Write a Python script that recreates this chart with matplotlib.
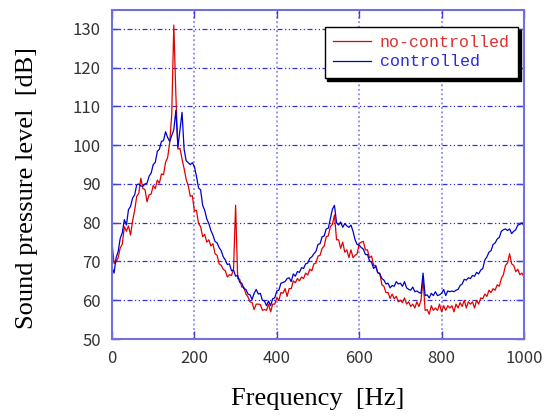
import numpy as np
import matplotlib
matplotlib.use('Agg')
import matplotlib.pyplot as plt

# frequency axis, 5 Hz steps
freq = np.arange(0, 1001, 5)

# no-controlled (red)
spl_nc = [
    75.0, 69.5, 70.0, 71.0, 73.5, 74.5, 79.0, 77.8, 79.2, 76.8,
    80.5, 83.2, 86.8, 87.6, 91.5, 88.8, 88.6, 85.4, 87.2, 87.4,
    89.6, 88.8, 91.0, 90.2, 92.6, 92.4, 95.6, 96.8, 100.6, 108.0,
    131.0, 113.0, 99.0, 99.2, 96.4, 94.0, 91.2, 89.6, 86.8, 87.0,
    83.0, 83.2, 79.8, 79.0, 76.4, 77.0, 75.0, 75.6, 74.0, 74.6,
    72.0, 71.6, 69.4, 69.0, 68.0, 67.6, 66.0, 66.6, 66.4, 68.0,
    84.5, 65.6, 65.4, 63.4, 63.4, 61.6, 60.9, 59.6, 59.4, 57.6,
    59.0, 59.0, 58.9, 57.4, 57.6, 57.4, 59.0, 57.0, 59.0, 59.0,
    60.6, 60.0, 62.0, 61.8, 63.0, 61.0, 63.0, 63.0, 65.0, 64.5,
    65.6, 65.0, 66.0, 65.6, 67.0, 66.5, 68.0, 67.6, 69.4, 69.6,
    71.4, 71.6, 73.4, 74.0, 76.4, 76.6, 79.0, 79.6, 82.0, 75.6,
    75.6, 73.4, 75.0, 72.4, 73.0, 71.0, 73.0, 71.0, 71.6, 72.0,
    74.6, 75.0, 75.2, 73.0, 73.0, 71.0, 71.4, 69.0, 69.0, 67.0,
    67.0, 64.0, 63.6, 62.0, 62.0, 60.5, 61.6, 60.4, 61.0, 59.6,
    60.0, 59.4, 60.6, 59.0, 59.6, 58.4, 59.0, 58.0, 59.6, 58.4,
    60.0, 65.5, 57.4, 57.6, 56.4, 58.6, 57.4, 58.0, 57.4, 59.0,
    57.0, 58.6, 57.4, 58.6, 58.0, 58.6, 57.0, 59.0, 58.0, 59.4,
    58.4, 60.0, 58.0, 59.6, 59.0, 59.6, 58.0, 60.0, 59.0, 60.6,
    60.4, 61.6, 61.0, 62.6, 62.0, 63.0, 62.6, 64.0, 63.6, 65.6,
    66.6, 69.0, 69.6, 72.0, 69.4, 69.0, 67.4, 68.0, 66.6, 67.0,
    66.0,
]

# controlled (blue)
spl_c = [
    68.5, 67.0, 71.0, 72.6, 76.0, 77.4, 80.8, 79.4, 83.4, 84.2,
    86.4, 87.2, 89.8, 90.0, 89.5, 89.4, 90.0, 90.2, 92.0, 92.8,
    95.0, 95.6, 98.4, 99.0, 101.0, 101.2, 103.5, 102.0, 101.0, 102.5,
    104.0, 109.0, 99.5, 104.0, 108.5, 99.0, 96.0, 95.5, 95.0, 95.5,
    94.5, 92.0, 89.0, 88.5, 84.5, 83.2, 81.0, 79.8, 78.0, 76.8,
    75.2, 74.8, 73.6, 72.8, 71.2, 70.4, 69.2, 69.4, 67.6, 67.8,
    66.2, 66.4, 64.6, 64.4, 63.0, 62.8, 61.6, 61.4, 60.2, 61.8,
    62.8, 61.6, 61.8, 60.0, 59.8, 58.6, 59.8, 58.6, 60.4, 60.6,
    62.4, 62.6, 64.4, 64.6, 64.8, 65.6, 65.8, 64.8, 66.8, 66.2,
    67.4, 67.2, 68.4, 68.2, 69.4, 69.6, 70.8, 71.2, 72.0, 72.6,
    74.4, 74.6, 76.4, 76.6, 78.4, 78.6, 81.0, 83.5, 84.5, 80.0,
    79.4, 80.2, 78.8, 79.8, 79.2, 78.8, 79.4, 77.8, 75.6, 74.4,
    74.2, 73.6, 73.2, 71.8, 71.8, 70.2, 69.8, 68.2, 68.8, 67.2,
    66.8, 65.6, 65.2, 64.2, 64.4, 63.2, 63.8, 63.6, 64.8, 64.2,
    64.4, 63.6, 64.8, 63.2, 62.8, 62.6, 63.4, 62.2, 62.4, 62.0,
    61.8, 67.0, 61.2, 61.4, 60.6, 61.8, 61.2, 62.2, 61.2, 61.4,
    61.8, 62.8, 61.2, 62.4, 62.2, 62.4, 62.2, 62.6, 62.8, 63.8,
    64.2, 65.4, 65.2, 65.8, 65.6, 66.4, 66.2, 67.2, 66.8, 67.8,
    68.2, 70.4, 71.2, 72.4, 72.8, 74.4, 74.8, 75.8, 76.2, 77.8,
    78.2, 78.4, 78.0, 78.4, 77.2, 77.8, 78.2, 79.4, 79.6, 80.0,
    79.2,
]

x_ticks = [0, 200, 400, 600, 800, 1000]
y_ticks = [50, 60, 70, 80, 90, 100, 110, 120, 130]

frame_col = '#7070e0'

fig = plt.figure(figsize=(5.44, 4.16), dpi=100)
ax = fig.add_axes([112 / 544, 1 - 339 / 416, 412 / 544, 329 / 416])

ax.plot(freq, spl_nc, color='#e00000', lw=0.9, label='no-controlled')
ax.plot(freq, spl_c, color='#0000cc', lw=0.9, label='controlled')

ax.set_xlim(0, 1000)
ax.set_ylim(50, 134.9)
ax.set_xticks(x_ticks)
ax.set_yticks(y_ticks)

# grid: horizontal dash-dot, vertical dotted
for y in y_ticks[1:]:
    ax.axhline(y, color='#3030e0', lw=0.9, ls=(0, (4, 2, 1, 2, 1, 2)), zorder=0)
for x in x_ticks[1:-1]:
    ax.axvline(x, color='#8888ee', lw=1.3, ls=(0, (1, 1.5)), zorder=0)

for s in ax.spines.values():
    s.set_color(frame_col)
    s.set_linewidth(1.5)

ax.tick_params(direction='in', length=6, width=1, color='#4040e0',
               top=True, right=True, pad=8, labelsize=12, labelcolor='#333333')
for lab in ax.get_xticklabels() + ax.get_yticklabels():
    lab.set_fontfamily('Noto Sans CJK JP')

ax.set_xlabel('Frequency  [Hz]', fontsize=19, family='Liberation Serif')
ax.set_ylabel('Sound pressure level  [dB]', fontsize=19, family='Liberation Serif')
ax.xaxis.set_label_coords(0.5, -0.148)
ax.yaxis.set_label_coords(-0.18, 0.46)

leg = ax.legend(loc='upper right', bbox_to_anchor=(518 / 544, 1 - 27 / 416),
                bbox_transform=fig.transFigure, borderaxespad=0,
                prop={'family': 'Liberation Mono', 'size': 12},
                labelcolor='linecolor', fancybox=False, framealpha=1,
                edgecolor='black', handlelength=2.3, handletextpad=0.5,
                borderpad=0.5, labelspacing=0.25,
                shadow={'color': 'black', 'alpha': 1})
leg.get_frame().set_linewidth(1.0)
for t, c in zip(leg.get_texts(), ['#e03030', '#2a2ae0']):
    t.set_color(c)

fig.savefig('out.png', dpi=100, facecolor='white')
